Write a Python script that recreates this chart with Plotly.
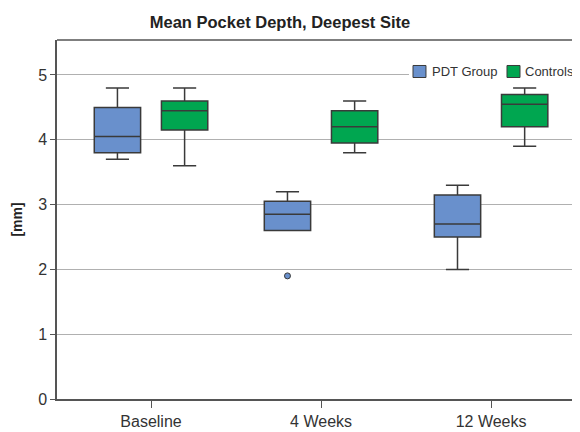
import plotly.graph_objects as go

categories = ["Baseline", "4 Weeks", "12 Weeks"]

pdt_lower = [3.7, 2.6, 2.0]
pdt_q1 = [3.8, 2.6, 2.5]
pdt_median = [4.05, 2.85, 2.7]
pdt_q3 = [4.5, 3.05, 3.15]
pdt_upper = [4.8, 3.2, 3.3]
pdt_outliers = [[None], [1.9], [None]]

ctl_lower = [3.6, 3.8, 3.9]
ctl_q1 = [4.15, 3.95, 4.2]
ctl_median = [4.45, 4.2, 4.55]
ctl_q3 = [4.6, 4.45, 4.7]
ctl_upper = [4.8, 4.6, 4.8]

y_ticks = [0, 1, 2, 3, 4, 5]

FONT = "Liberation Sans, Arial, sans-serif"
LINE = "#3a3a3a"
PDT_COLOR = "#6990cc"
CTL_COLOR = "#00a650"

fig = go.Figure()
fig.add_trace(go.Box(
    name="PDT Group", x=categories, y=pdt_outliers,
    q1=pdt_q1, median=pdt_median, q3=pdt_q3,
    lowerfence=pdt_lower, upperfence=pdt_upper,
    boxpoints="outliers", pointpos=0, jitter=0,
    fillcolor=PDT_COLOR, line=dict(color=LINE, width=1.5),
    whiskerwidth=0.5,
    marker=dict(color=PDT_COLOR, size=6, line=dict(color=LINE, width=1)),
))
fig.add_trace(go.Box(
    name="Controls", x=categories,
    q1=ctl_q1, median=ctl_median, q3=ctl_q3,
    lowerfence=ctl_lower, upperfence=ctl_upper,
    boxpoints=False,
    fillcolor=CTL_COLOR, line=dict(color=LINE, width=1.5),
    whiskerwidth=0.5,
))

# legend drawn by hand so it can sit at the clipped right edge like the reference
legend_shapes = [
    dict(type="rect", xref="paper", yref="paper", x0=0.673, x1=1.0, y0=0.883, y1=0.939,
         fillcolor="white", line=dict(width=0), layer="above"),
    dict(type="rect", xref="paper", yref="paper", x0=0.6807, x1=0.7055, y0=0.8955, y1=0.929,
         fillcolor=PDT_COLOR, line=dict(color=LINE, width=1), layer="above"),
    dict(type="rect", xref="paper", yref="paper", x0=0.8604, x1=0.8853, y0=0.8955, y1=0.929,
         fillcolor=CTL_COLOR, line=dict(color=LINE, width=1), layer="above"),
]
legend_texts = [
    dict(text="PDT Group", xref="paper", yref="paper", x=0.7132, y=0.9109,
         xanchor="left", yanchor="middle", showarrow=False,
         font=dict(size=13, color="#333333")),
    dict(text="Controls", xref="paper", yref="paper", x=0.891, y=0.9109,
         xanchor="left", yanchor="middle", showarrow=False,
         font=dict(size=13, color="#333333")),
]

# the page body has an 8px default margin, so the figure is sized 8px smaller
fig.update_layout(
    width=572, height=424,
    margin=dict(l=49, r=0, t=32, b=33),
    paper_bgcolor="white", plot_bgcolor="white",
    boxmode="group", boxgap=0.21, boxgroupgap=0.31,
    font=dict(family=FONT, size=16, color="#333333"),
    showlegend=False,
    title=dict(text="<b>Mean Pocket Depth, Deepest Site</b>", x=0.4755, xanchor="center",
               y=0.967, yanchor="middle", font=dict(size=16.5, color="#222222")),
    xaxis=dict(
        range=[-0.553, 2.523], showgrid=False, showline=True, linecolor="#555555",
        linewidth=1.5, ticks="outside", ticklen=7, tickcolor="#555555",
        tickfont=dict(size=16), zeroline=False, automargin=False,
    ),
    yaxis=dict(
        range=[0, 5.54], tickvals=y_ticks, showgrid=True, gridcolor="#b0b0b0",
        gridwidth=1, showline=True, linecolor="#555555", linewidth=1.5,
        ticks="outside", ticklen=5, tickcolor="#555555", zeroline=False,
        tickfont=dict(size=16), automargin=False,
        title=dict(text="<b>[mm]</b>", font=dict(size=14, color="#222222"), standoff=12),
    ),
    shapes=[dict(type="line", xref="paper", yref="paper", x0=0, x1=1, y0=1, y1=1,
                 line=dict(color="#555555", width=1.5))] + legend_shapes,
    annotations=legend_texts,
)

fig.write_html("out.html")
